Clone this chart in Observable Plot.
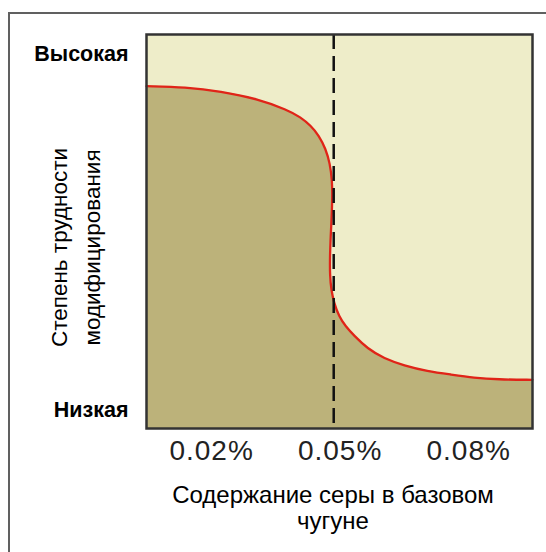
<!DOCTYPE html>
<html><head><meta charset="utf-8">
<script src="https://cdn.jsdelivr.net/npm/d3@7"></script>
<script src="https://cdn.jsdelivr.net/npm/@observablehq/plot@0.6"></script>
<style>
body{margin:0;background:#fff;}
#wrap{position:relative;width:546px;height:552px;overflow:hidden;background:#fff;}
#border{position:absolute;left:8px;top:12px;width:600px;height:600px;border-top:2px solid #606060;border-left:2px solid #606060;}
#chart{position:absolute;left:0;top:0;}
#chart svg{background:transparent;}
#chart svg [aria-label="x-axis tick label"] text{letter-spacing:1px;}
</style></head><body>
<div id="wrap"><div id="border"></div><div id="chart"></div></div>
<script>
// Sulfur content in base iron (%)
const sulfur = [0.00482, 0.01393, 0.02210, 0.03067, 0.03767, 0.04078, 0.04311, 0.04505, 0.04662, 0.04762, 0.04813, 0.04818, 0.04802, 0.04778, 0.04762, 0.04760, 0.04795, 0.04855, 0.04972, 0.05129, 0.05322, 0.05635, 0.06023, 0.06490, 0.07036, 0.07580, 0.08124, 0.08671, 0.09488];
// Relative difficulty of modification (0 = low, 1 = high)
const difficulty = [0.8688, 0.8662, 0.8561, 0.8368, 0.8089, 0.7901, 0.7690, 0.7437, 0.7099, 0.6726, 0.6294, 0.5863, 0.5355, 0.4848, 0.4391, 0.3883, 0.3503, 0.3198, 0.2843, 0.2589, 0.2360, 0.2030, 0.1777, 0.1599, 0.1454, 0.1371, 0.1287, 0.1244, 0.1236];
const xDomain = [0.0048, 0.0949];
const yDomain = [0, 1];
const threshold = [0.0485];
const xTicks = [0.02, 0.05, 0.08];
const xTickLabels = ["0.02%", "0.05%", "0.08%"];
const yTicks = [0.0457, 0.9505];
const yTickLabels = ["Низкая", "Высокая"];
const xTitle = "Содержание серы в базовом\nчугуне";
const yTitle = "Степень трудности\nмодифицирования";

const data = sulfur.map((s, i) => ({s, d: difficulty[i]}));
const font = "'Liberation Sans', Arial, sans-serif";

const chart = Plot.plot({
  width: 546,
  height: 552,
  marginLeft: 146,
  marginRight: 14,
  marginTop: 34,
  marginBottom: 124,
  style: {fontFamily: font, background: "transparent"},
  x: {domain: xDomain},
  y: {domain: yDomain},
  marks: [
    Plot.frame({fill: "#eeedc9", stroke: "none"}),
    Plot.areaY(data, {x: "s", y1: 0, y2: "d", fill: "#bcb27a", curve: "basis"}),
    Plot.line(data, {x: "s", y: "d", stroke: "#e02418", strokeWidth: 2.3, curve: "basis"}),
    Plot.ruleX(threshold, {stroke: "#111", strokeWidth: 2.5, strokeDasharray: "15,7"}),
    Plot.frame({stroke: "#333", strokeWidth: 2.5}),
    Plot.axisX({ticks: xTicks, tickFormat: (d) => xTickLabels[xTicks.indexOf(d)], tickSize: 0, tickPadding: 12, fontSize: 28, fill: "#222", label: null}),
    Plot.axisY({ticks: yTicks, tickFormat: (d) => yTickLabels[yTicks.indexOf(d)], tickSize: 0, tickPadding: 18, fontSize: 21.5, fontWeight: "bold", fill: "#000", label: null}),
    Plot.text([xTitle], {frameAnchor: "bottom", lineAnchor: "top", textAnchor: "middle", dy: 57, dx: -6.5, fontSize: 24, lineHeight: 1.05, fill: "#000"}),
    Plot.text([yTitle], {frameAnchor: "left", rotate: -90, textAnchor: "middle", lineAnchor: "middle", dx: -73.5, dy: 16, fontSize: 22.5, lineHeight: 1.45, fill: "#000"})
  ]
});
document.getElementById("chart").appendChild(chart);
</script>
</body></html>
